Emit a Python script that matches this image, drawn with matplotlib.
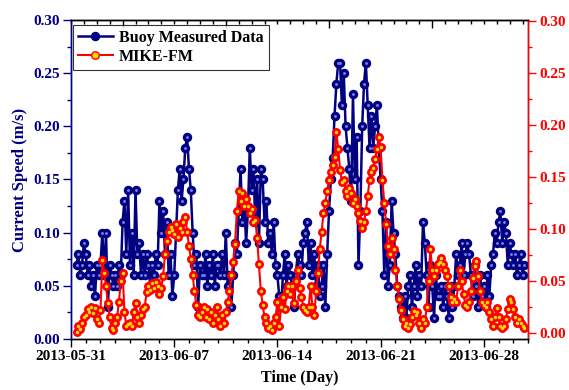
#!/usr/bin/env python3
# -+-coding: utf-8 -+-

"""
 current speed at the buoy station: measured vs. MIKE-FM model
"""

import numpy as np
import pandas as pd
import matplotlib
matplotlib.use("Agg")
import matplotlib.pyplot as pl
import matplotlib.dates as mdates
from matplotlib.lines import Line2D

pl.rcParams.update({'font.family': 'Liberation Serif', 'font.weight': 'bold',
                    'font.size': 11, 'axes.labelweight': 'bold'})

#--- 3-hourly samples, first one 2013-05-31 09:00
t_start = "2013-05-31 09:00"
t_step  = "3h"

#--- buoy measured current speed (m/s), one row per day
buoy_speed = [
    0.07, 0.08, 0.06, 0.07, 0.09,                       # 05-31
    0.08, 0.06, 0.07, 0.05, 0.06, 0.04, 0.07, 0.06,     # 06-01
    0.07, 0.10, 0.06, 0.10, 0.03, 0.07, 0.06, 0.05,
    0.06, 0.05, 0.07, 0.06, 0.11, 0.13, 0.08, 0.14,
    0.07, 0.10, 0.06, 0.14, 0.08, 0.09, 0.06, 0.08,
    0.06, 0.08, 0.07, 0.05, 0.07, 0.06, 0.08, 0.07,     # 06-05
    0.13, 0.10, 0.12, 0.08, 0.11, 0.06, 0.08, 0.04,
    0.06, 0.10, 0.14, 0.16, 0.13, 0.15, 0.18, 0.19,
    0.16, 0.14, 0.10, 0.07, 0.08, 0.03, 0.07, 0.06,
    0.06, 0.08, 0.05, 0.07, 0.06, 0.08, 0.05, 0.07,
    0.07, 0.06, 0.08, 0.06, 0.10, 0.05, 0.06, 0.03,     # 06-10
    0.06, 0.09, 0.08, 0.12, 0.16, 0.11, 0.13, 0.09,
    0.12, 0.18, 0.14, 0.16, 0.11, 0.15, 0.09, 0.16,
    0.15, 0.11, 0.13, 0.09, 0.10, 0.08, 0.11, 0.07,
    0.06, 0.04, 0.03, 0.06, 0.08, 0.05, 0.07, 0.06,
    0.05, 0.03, 0.06, 0.08, 0.07, 0.06, 0.09, 0.10,     # 06-15
    0.11, 0.07, 0.09, 0.06, 0.08, 0.05, 0.07, 0.04,
    0.05, 0.07, 0.03, 0.08, 0.12, 0.15, 0.17, 0.21,
    0.24, 0.26, 0.26, 0.22, 0.25, 0.20, 0.18, 0.16,
    0.13, 0.23, 0.15, 0.19, 0.07, 0.12, 0.20, 0.24,
    0.26, 0.22, 0.18, 0.21, 0.18, 0.20, 0.22, 0.18,     # 06-20
    0.15, 0.12, 0.06, 0.11, 0.05, 0.07, 0.13, 0.10,
    0.08, 0.05, 0.04, 0.03, 0.02, 0.04, 0.02, 0.05,
    0.06, 0.03, 0.05, 0.07, 0.04, 0.06, 0.05, 0.11,
    0.09, 0.06, 0.03, 0.07, 0.05, 0.02, 0.06, 0.04,
    0.04, 0.05, 0.03, 0.05, 0.04, 0.02, 0.05, 0.03,     # 06-25
    0.05, 0.08, 0.06, 0.07, 0.09, 0.06, 0.08, 0.09,
    0.08, 0.06, 0.04, 0.07, 0.05, 0.03, 0.06, 0.04,
    0.05, 0.03, 0.06, 0.04, 0.07, 0.08, 0.10, 0.09,
    0.11, 0.12, 0.09, 0.11, 0.10, 0.07, 0.09, 0.08,
    0.07, 0.08, 0.06, 0.07, 0.08, 0.06, 0.07,           # 06-30
]

#--- MIKE-FM simulated current speed (m/s), same time steps
mike_speed = [
    0.001, 0.007, 0.004, 0.010, 0.015,
    0.017, 0.023, 0.020, 0.025, 0.019, 0.024, 0.013, 0.010,
    0.022, 0.070, 0.058, 0.045, 0.029, 0.015, 0.005, 0.003,
    0.010, 0.015, 0.030, 0.050, 0.058, 0.020, 0.007, 0.009,
    0.010, 0.007, 0.020, 0.029, 0.015, 0.010, 0.017, 0.023,
    0.025, 0.039, 0.045, 0.041, 0.048, 0.043, 0.049, 0.045,
    0.037, 0.043, 0.055, 0.076, 0.088, 0.097, 0.102, 0.099,
    0.095, 0.105, 0.092, 0.101, 0.097, 0.107, 0.112, 0.097,
    0.084, 0.071, 0.056, 0.040, 0.027, 0.017, 0.015, 0.020,
    0.025, 0.015, 0.023, 0.013, 0.020, 0.010, 0.017, 0.025,
    0.013, 0.007, 0.017, 0.010, 0.020, 0.030, 0.040, 0.056,
    0.068, 0.086, 0.117, 0.137, 0.127, 0.135, 0.122, 0.129,
    0.122, 0.115, 0.119, 0.107, 0.109, 0.091, 0.066, 0.040,
    0.027, 0.015, 0.010, 0.005, 0.007, 0.003, 0.010, 0.015,
    0.030, 0.007, 0.025, 0.035, 0.023, 0.040, 0.045, 0.037,
    0.045, 0.029, 0.050, 0.061, 0.043, 0.035, 0.025, 0.022,
    0.020, 0.025, 0.045, 0.025, 0.017, 0.040, 0.058, 0.081,
    0.097, 0.115, 0.125, 0.137, 0.147, 0.155, 0.162, 0.169,
    0.193, 0.177, 0.157, 0.145, 0.147, 0.137, 0.132, 0.139,
    0.135, 0.125, 0.129, 0.122, 0.115, 0.108, 0.101, 0.107,
    0.117, 0.132, 0.147, 0.155, 0.159, 0.167, 0.177, 0.188,
    0.179, 0.147, 0.125, 0.105, 0.084, 0.076, 0.091, 0.081,
    0.061, 0.045, 0.033, 0.022, 0.013, 0.007, 0.010, 0.005,
    0.009, 0.015, 0.021, 0.017, 0.020, 0.010, 0.005, 0.013,
    0.010, 0.025, 0.050, 0.081, 0.061, 0.055, 0.061, 0.066,
    0.068, 0.072, 0.066, 0.061, 0.055, 0.045, 0.035, 0.030,
    0.033, 0.030, 0.045, 0.061, 0.050, 0.037, 0.027, 0.025,
    0.030, 0.040, 0.053, 0.064, 0.069, 0.055, 0.040, 0.030,
    0.027, 0.025, 0.030, 0.020, 0.013, 0.007, 0.015, 0.024,
    0.015, 0.007, 0.005, 0.007, 0.013, 0.023, 0.033, 0.030,
    0.023, 0.015, 0.010, 0.013, 0.010, 0.007, 0.005,
]

date_ticks = ["2013-05-31", "2013-06-07", "2013-06-14", "2013-06-21", "2013-06-28"]
y_ticks    = [0.00, 0.05, 0.10, 0.15, 0.20, 0.25, 0.30]

NAVY = '#000080'
RED  = '#ff0000'

t = pd.date_range(t_start, periods=len(buoy_speed), freq=t_step)

fig = pl.figure(figsize=(5.69, 3.90), dpi=100)
ax  = fig.add_axes([0.1248, 0.1308, 0.8032, 0.8179])
ax2 = ax.twinx()

#--- buoy: navy "spheres" with a small light core
ax.plot(t, buoy_speed, '-', color=NAVY, lw=1.8, marker='o', ms=5.8,
        mfc=NAVY, mec=NAVY, zorder=3)
ax.plot(t, buoy_speed, 'o', color='#7080e8', ms=1.1, zorder=4)

#--- model: red with yellow core
ax2.plot(t, mike_speed, '-', color=RED, lw=1.5, marker='o', ms=5.4,
         mfc=RED, mec=RED, zorder=3)
ax2.plot(t, mike_speed, 'o', color='#ffd800', ms=1.5, zorder=4)

#--- x axis
x0, x1 = pd.Timestamp("2013-05-31"), pd.Timestamp("2013-07-01")
ax.set_xlim(x0, x1)
ax.set_xticks(pd.to_datetime(date_ticks))
ax.set_xticklabels(date_ticks)
ax.xaxis.set_minor_locator(mdates.DayLocator())
ax.tick_params(axis='x', which='major', direction='out', length=6, width=1,
               labelsize=11, pad=2)
ax.tick_params(axis='x', which='minor', direction='out', length=3, width=1)
ax.set_xlabel('Time (Day)', fontsize=11.5, labelpad=5)

#--- top axis: its own tick spacing, ticks only
top = ax.secondary_xaxis('top')
xn0 = mdates.date2num(x0)
top.set_xticks([xn0 + 3.5 + 7 * k for k in range(4)])
top.set_xticks([xn0 + 0.875 * k for k in range(36)], minor=True)
top.tick_params(which='major', direction='in', length=6, width=1, labeltop=False)
top.tick_params(which='minor', direction='in', length=3, width=1)
top.spines['top'].set_color('black')

#--- left axis
ax.set_ylim(0, 0.30)
ax.set_yticks(y_ticks)
ax.set_yticklabels(['%.2f' % v for v in y_ticks], color=NAVY)
ax.set_yticks(np.arange(0.025, 0.30, 0.05), minor=True)
ax.tick_params(axis='y', which='major', direction='out', length=6, width=1,
               colors=NAVY, labelsize=11, pad=2)
ax.tick_params(axis='y', which='minor', direction='out', length=3, width=1,
               colors=NAVY)
ax.spines['left'].set_color(NAVY)
ax.set_ylabel('Current Speed (m/s)', color=NAVY, fontsize=12, labelpad=4)

#--- right axis
ax2.set_ylim(-0.0058, 0.301)
ax2.set_yticks(y_ticks)
ax2.set_yticklabels(['%.2f' % v for v in y_ticks], color=RED)
ax2.set_yticks(np.arange(0.025, 0.30, 0.05), minor=True)
ax2.tick_params(axis='y', which='major', direction='out', length=6, width=1,
                colors=RED, labelsize=11, pad=2)
ax2.tick_params(axis='y', which='minor', direction='out', length=3, width=1,
                colors=RED)
ax2.spines['right'].set_color(RED)
ax2.spines['left'].set_color(NAVY)

for a in (ax, ax2):
    for s in a.spines.values():
        s.set_linewidth(1.0)

#--- legend
h_buoy = Line2D([], [], color=NAVY, lw=1.8, marker='o', ms=5.8, mfc=NAVY, mec=NAVY)
h_mike = Line2D([], [], color=RED, lw=1.5, marker='o', ms=5.4, mfc='#ffd800', mec=RED)
leg = ax2.legend([h_buoy, h_mike], ['Buoy Measured Data', 'MIKE-FM'],
                 loc='upper left', bbox_to_anchor=(0.004, 0.985),
                 frameon=True, fancybox=False, fontsize=11.5,
                 handlelength=2.2, handletextpad=0.4, borderpad=0.3,
                 labelspacing=0.2, borderaxespad=0)
leg.get_frame().set_edgecolor('black')
leg.get_frame().set_linewidth(0.8)

fig.savefig('out.png', dpi=100)
